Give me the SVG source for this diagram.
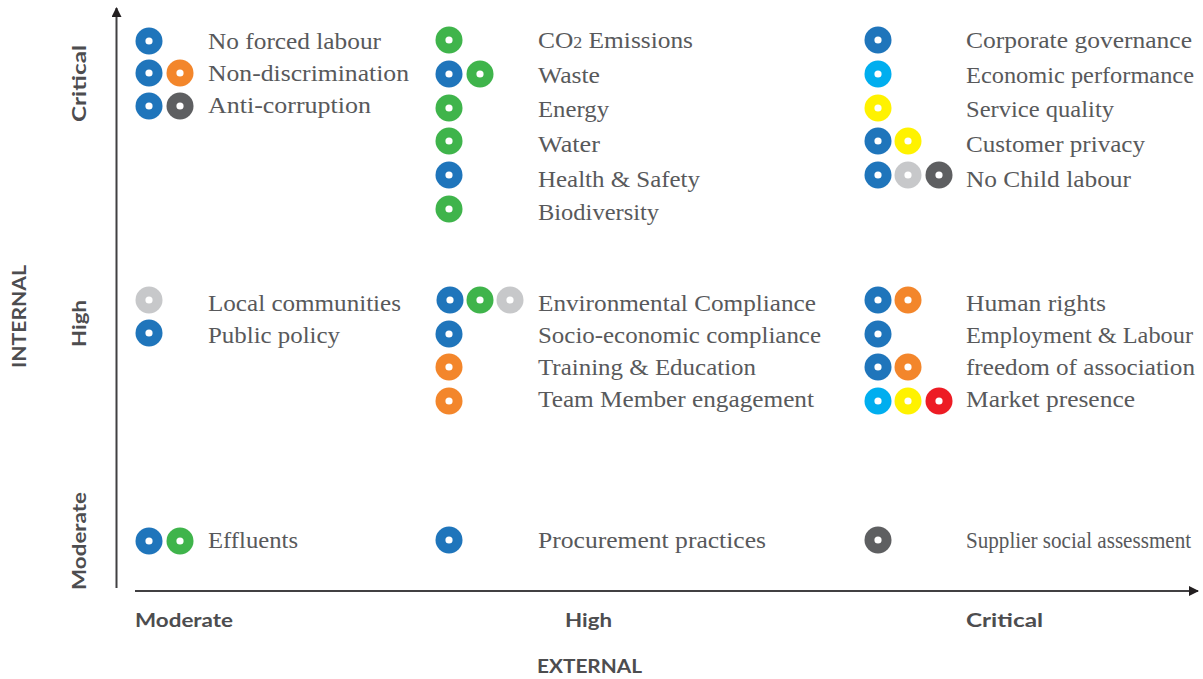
<svg xmlns="http://www.w3.org/2000/svg" width="1203" height="679" viewBox="0 0 1203 679">
<style>
.lbl{font-family:"Liberation Serif","Times New Roman",serif;font-size:24px;fill:#58595b}
.ax{font-family:Lato,"Liberation Sans",sans-serif;font-size:19px;font-weight:700;fill:#4d4d4f}
.axt{font-family:Lato,"Liberation Sans",sans-serif;font-size:18px;font-weight:700;fill:#4d4d4f}
.b{fill:#1f75bb}.o{fill:#f3862b}.g{fill:#3fb44b}.d{fill:#5e5f61}.lg{fill:#c7c8ca}.lb{fill:#00aeef}.y{fill:#fff200}.r{fill:#ed1c24}
.axis{stroke:#414042;stroke-width:2;fill:none}
</style>
<defs>
<g id="dot"><circle r="3.6" fill="#fff"/></g>
<marker id="ah" viewBox="0 0 10 10" refX="9" refY="5" markerWidth="10" markerHeight="10" markerUnits="userSpaceOnUse" orient="auto"><path d="M0,0 L10,5 L0,10 Z" fill="#231f20"/></marker>
</defs>
<rect width="1203" height="679" fill="#fff"/>
<g id="connectors">
<line class="axis" x1="116.5" y1="588" x2="116.5" y2="8" marker-end="url(#ah)"/>
<line class="axis" x1="135" y1="591" x2="1198" y2="591" marker-end="url(#ah)"/>
</g>
<g id="axis-labels">
<text class="ax" x="135" y="627" textLength="98" lengthAdjust="spacingAndGlyphs">Moderate</text>
<text class="ax" x="565" y="627" textLength="47" lengthAdjust="spacingAndGlyphs">High</text>
<text class="ax" x="966" y="627" textLength="77" lengthAdjust="spacingAndGlyphs">Critical</text>
<text class="axt" x="537" y="673" textLength="105" lengthAdjust="spacingAndGlyphs">EXTERNAL</text>
<text class="ax" transform="translate(86,83.5) rotate(-90)" text-anchor="middle" textLength="77" lengthAdjust="spacingAndGlyphs">Critical</text>
<text class="ax" transform="translate(86,323.5) rotate(-90)" text-anchor="middle" textLength="47" lengthAdjust="spacingAndGlyphs">High</text>
<text class="ax" transform="translate(86,541) rotate(-90)" text-anchor="middle" textLength="98" lengthAdjust="spacingAndGlyphs">Moderate</text>
<text class="axt" transform="translate(26,316.5) rotate(-90)" text-anchor="middle" textLength="103" lengthAdjust="spacingAndGlyphs">INTERNAL</text>
</g>
<!-- Column 1 -->
<g id="no-forced-labour"><circle class="b" cx="149" cy="41" r="13.5"/><use href="#dot" x="149" y="41"/><text class="lbl" x="208" y="48.5" textLength="173" lengthAdjust="spacingAndGlyphs">No forced labour</text></g>
<g id="non-discrimination"><circle class="b" cx="149" cy="73" r="13.5"/><use href="#dot" x="149" y="73"/><circle class="o" cx="180" cy="73" r="13.5"/><use href="#dot" x="180" y="73"/><text class="lbl" x="208" y="80.5" textLength="201" lengthAdjust="spacingAndGlyphs">Non-discrimination</text></g>
<g id="anti-corruption"><circle class="b" cx="149" cy="106" r="13.5"/><use href="#dot" x="149" y="106"/><circle class="d" cx="180" cy="106" r="13.5"/><use href="#dot" x="180" y="106"/><text class="lbl" x="208" y="112.5" textLength="163" lengthAdjust="spacingAndGlyphs">Anti-corruption</text></g>
<g id="local-communities"><circle class="lg" cx="149" cy="300" r="13.5"/><use href="#dot" x="149" y="300"/><text class="lbl" x="208" y="311" textLength="193" lengthAdjust="spacingAndGlyphs">Local communities</text></g>
<g id="public-policy"><circle class="b" cx="149" cy="333" r="13.5"/><use href="#dot" x="149" y="333"/><text class="lbl" x="208" y="343" textLength="132" lengthAdjust="spacingAndGlyphs">Public policy</text></g>
<g id="effluents"><circle class="b" cx="149" cy="541" r="13.5"/><use href="#dot" x="149" y="541"/><circle class="g" cx="180" cy="541" r="13.5"/><use href="#dot" x="180" y="541"/><text class="lbl" x="208" y="548" textLength="90" lengthAdjust="spacingAndGlyphs">Effluents</text></g>
<!-- Column 2 -->
<g id="co2-emissions"><circle class="g" cx="449" cy="40" r="13.5"/><use href="#dot" x="449" y="40"/><text class="lbl" x="538" y="48" textLength="155" lengthAdjust="spacingAndGlyphs">CO<tspan font-size="17px">2</tspan> Emissions</text></g>
<g id="waste"><circle class="b" cx="449" cy="74" r="13.5"/><use href="#dot" x="449" y="74"/><circle class="g" cx="480" cy="74" r="13.5"/><use href="#dot" x="480" y="74"/><text class="lbl" x="538" y="83" textLength="62" lengthAdjust="spacingAndGlyphs">Waste</text></g>
<g id="energy"><circle class="g" cx="449" cy="108" r="13.5"/><use href="#dot" x="449" y="108"/><text class="lbl" x="538" y="117" textLength="71" lengthAdjust="spacingAndGlyphs">Energy</text></g>
<g id="water"><circle class="g" cx="449" cy="141" r="13.5"/><use href="#dot" x="449" y="141"/><text class="lbl" x="538" y="151.5" textLength="62" lengthAdjust="spacingAndGlyphs">Water</text></g>
<g id="health-safety"><circle class="b" cx="449" cy="175" r="13.5"/><use href="#dot" x="449" y="175"/><text class="lbl" x="538" y="186.5" textLength="162" lengthAdjust="spacingAndGlyphs">Health &amp; Safety</text></g>
<g id="biodiversity"><circle class="g" cx="449" cy="209" r="13.5"/><use href="#dot" x="449" y="209"/><text class="lbl" x="538" y="219.5" textLength="121" lengthAdjust="spacingAndGlyphs">Biodiversity</text></g>
<g id="environmental-compliance"><circle class="b" cx="450" cy="300" r="13.5"/><use href="#dot" x="450" y="300"/><circle class="g" cx="480" cy="300" r="13.5"/><use href="#dot" x="480" y="300"/><circle class="lg" cx="510" cy="300" r="13.5"/><use href="#dot" x="510" y="300"/><text class="lbl" x="538" y="311" textLength="278" lengthAdjust="spacingAndGlyphs">Environmental Compliance</text></g>
<g id="socio-economic-compliance"><circle class="b" cx="449" cy="334" r="13.5"/><use href="#dot" x="449" y="334"/><text class="lbl" x="538" y="343" textLength="283" lengthAdjust="spacingAndGlyphs">Socio-economic compliance</text></g>
<g id="training-education"><circle class="o" cx="449" cy="367" r="13.5"/><use href="#dot" x="449" y="367"/><text class="lbl" x="538" y="375" textLength="218" lengthAdjust="spacingAndGlyphs">Training &amp; Education</text></g>
<g id="team-member-engagement"><circle class="o" cx="449" cy="401" r="13.5"/><use href="#dot" x="449" y="401"/><text class="lbl" x="538" y="407" textLength="276" lengthAdjust="spacingAndGlyphs">Team Member engagement</text></g>
<g id="procurement-practices"><circle class="b" cx="449" cy="540" r="13.5"/><use href="#dot" x="449" y="540"/><text class="lbl" x="538" y="548" textLength="228" lengthAdjust="spacingAndGlyphs">Procurement practices</text></g>
<!-- Column 3 -->
<g id="corporate-governance"><circle class="b" cx="878" cy="40" r="13.5"/><use href="#dot" x="878" y="40"/><text class="lbl" x="966" y="48" textLength="226" lengthAdjust="spacingAndGlyphs">Corporate governance</text></g>
<g id="economic-performance"><circle class="lb" cx="878" cy="74" r="13.5"/><use href="#dot" x="878" y="74"/><text class="lbl" x="966" y="83" textLength="228" lengthAdjust="spacingAndGlyphs">Economic performance</text></g>
<g id="service-quality"><circle class="y" cx="878" cy="108" r="13.5"/><use href="#dot" x="878" y="108"/><text class="lbl" x="966" y="117" textLength="148" lengthAdjust="spacingAndGlyphs">Service quality</text></g>
<g id="customer-privacy"><circle class="b" cx="878" cy="141" r="13.5"/><use href="#dot" x="878" y="141"/><circle class="y" cx="908" cy="141" r="13.5"/><use href="#dot" x="908" y="141"/><text class="lbl" x="966" y="151.5" textLength="179" lengthAdjust="spacingAndGlyphs">Customer privacy</text></g>
<g id="no-child-labour"><circle class="b" cx="878" cy="175" r="13.5"/><use href="#dot" x="878" y="175"/><circle class="lg" cx="908" cy="175" r="13.5"/><use href="#dot" x="908" y="175"/><circle class="d" cx="939" cy="175" r="13.5"/><use href="#dot" x="939" y="175"/><text class="lbl" x="966" y="186.5" textLength="165" lengthAdjust="spacingAndGlyphs">No Child labour</text></g>
<g id="human-rights"><circle class="b" cx="878" cy="300" r="13.5"/><use href="#dot" x="878" y="300"/><circle class="o" cx="908" cy="300" r="13.5"/><use href="#dot" x="908" y="300"/><text class="lbl" x="966" y="311" textLength="140" lengthAdjust="spacingAndGlyphs">Human rights</text></g>
<g id="employment-labour"><circle class="b" cx="878" cy="334" r="13.5"/><use href="#dot" x="878" y="334"/><text class="lbl" x="966" y="343" textLength="227" lengthAdjust="spacingAndGlyphs">Employment &amp; Labour</text></g>
<g id="freedom-of-association"><circle class="b" cx="878" cy="367" r="13.5"/><use href="#dot" x="878" y="367"/><circle class="o" cx="908" cy="367" r="13.5"/><use href="#dot" x="908" y="367"/><text class="lbl" x="966" y="375" textLength="229" lengthAdjust="spacingAndGlyphs">freedom of association</text></g>
<g id="market-presence"><circle class="lb" cx="878" cy="401" r="13.5"/><use href="#dot" x="878" y="401"/><circle class="y" cx="908" cy="401" r="13.5"/><use href="#dot" x="908" y="401"/><circle class="r" cx="939" cy="401" r="13.5"/><use href="#dot" x="939" y="401"/><text class="lbl" x="966" y="407" textLength="169" lengthAdjust="spacingAndGlyphs">Market presence</text></g>
<g id="supplier-social-assessment"><circle class="d" cx="878" cy="540" r="13.5"/><use href="#dot" x="878" y="540"/><text class="lbl" transform="translate(966,548) scale(0.88,1)">Supplier social assessment</text></g>
</svg>
